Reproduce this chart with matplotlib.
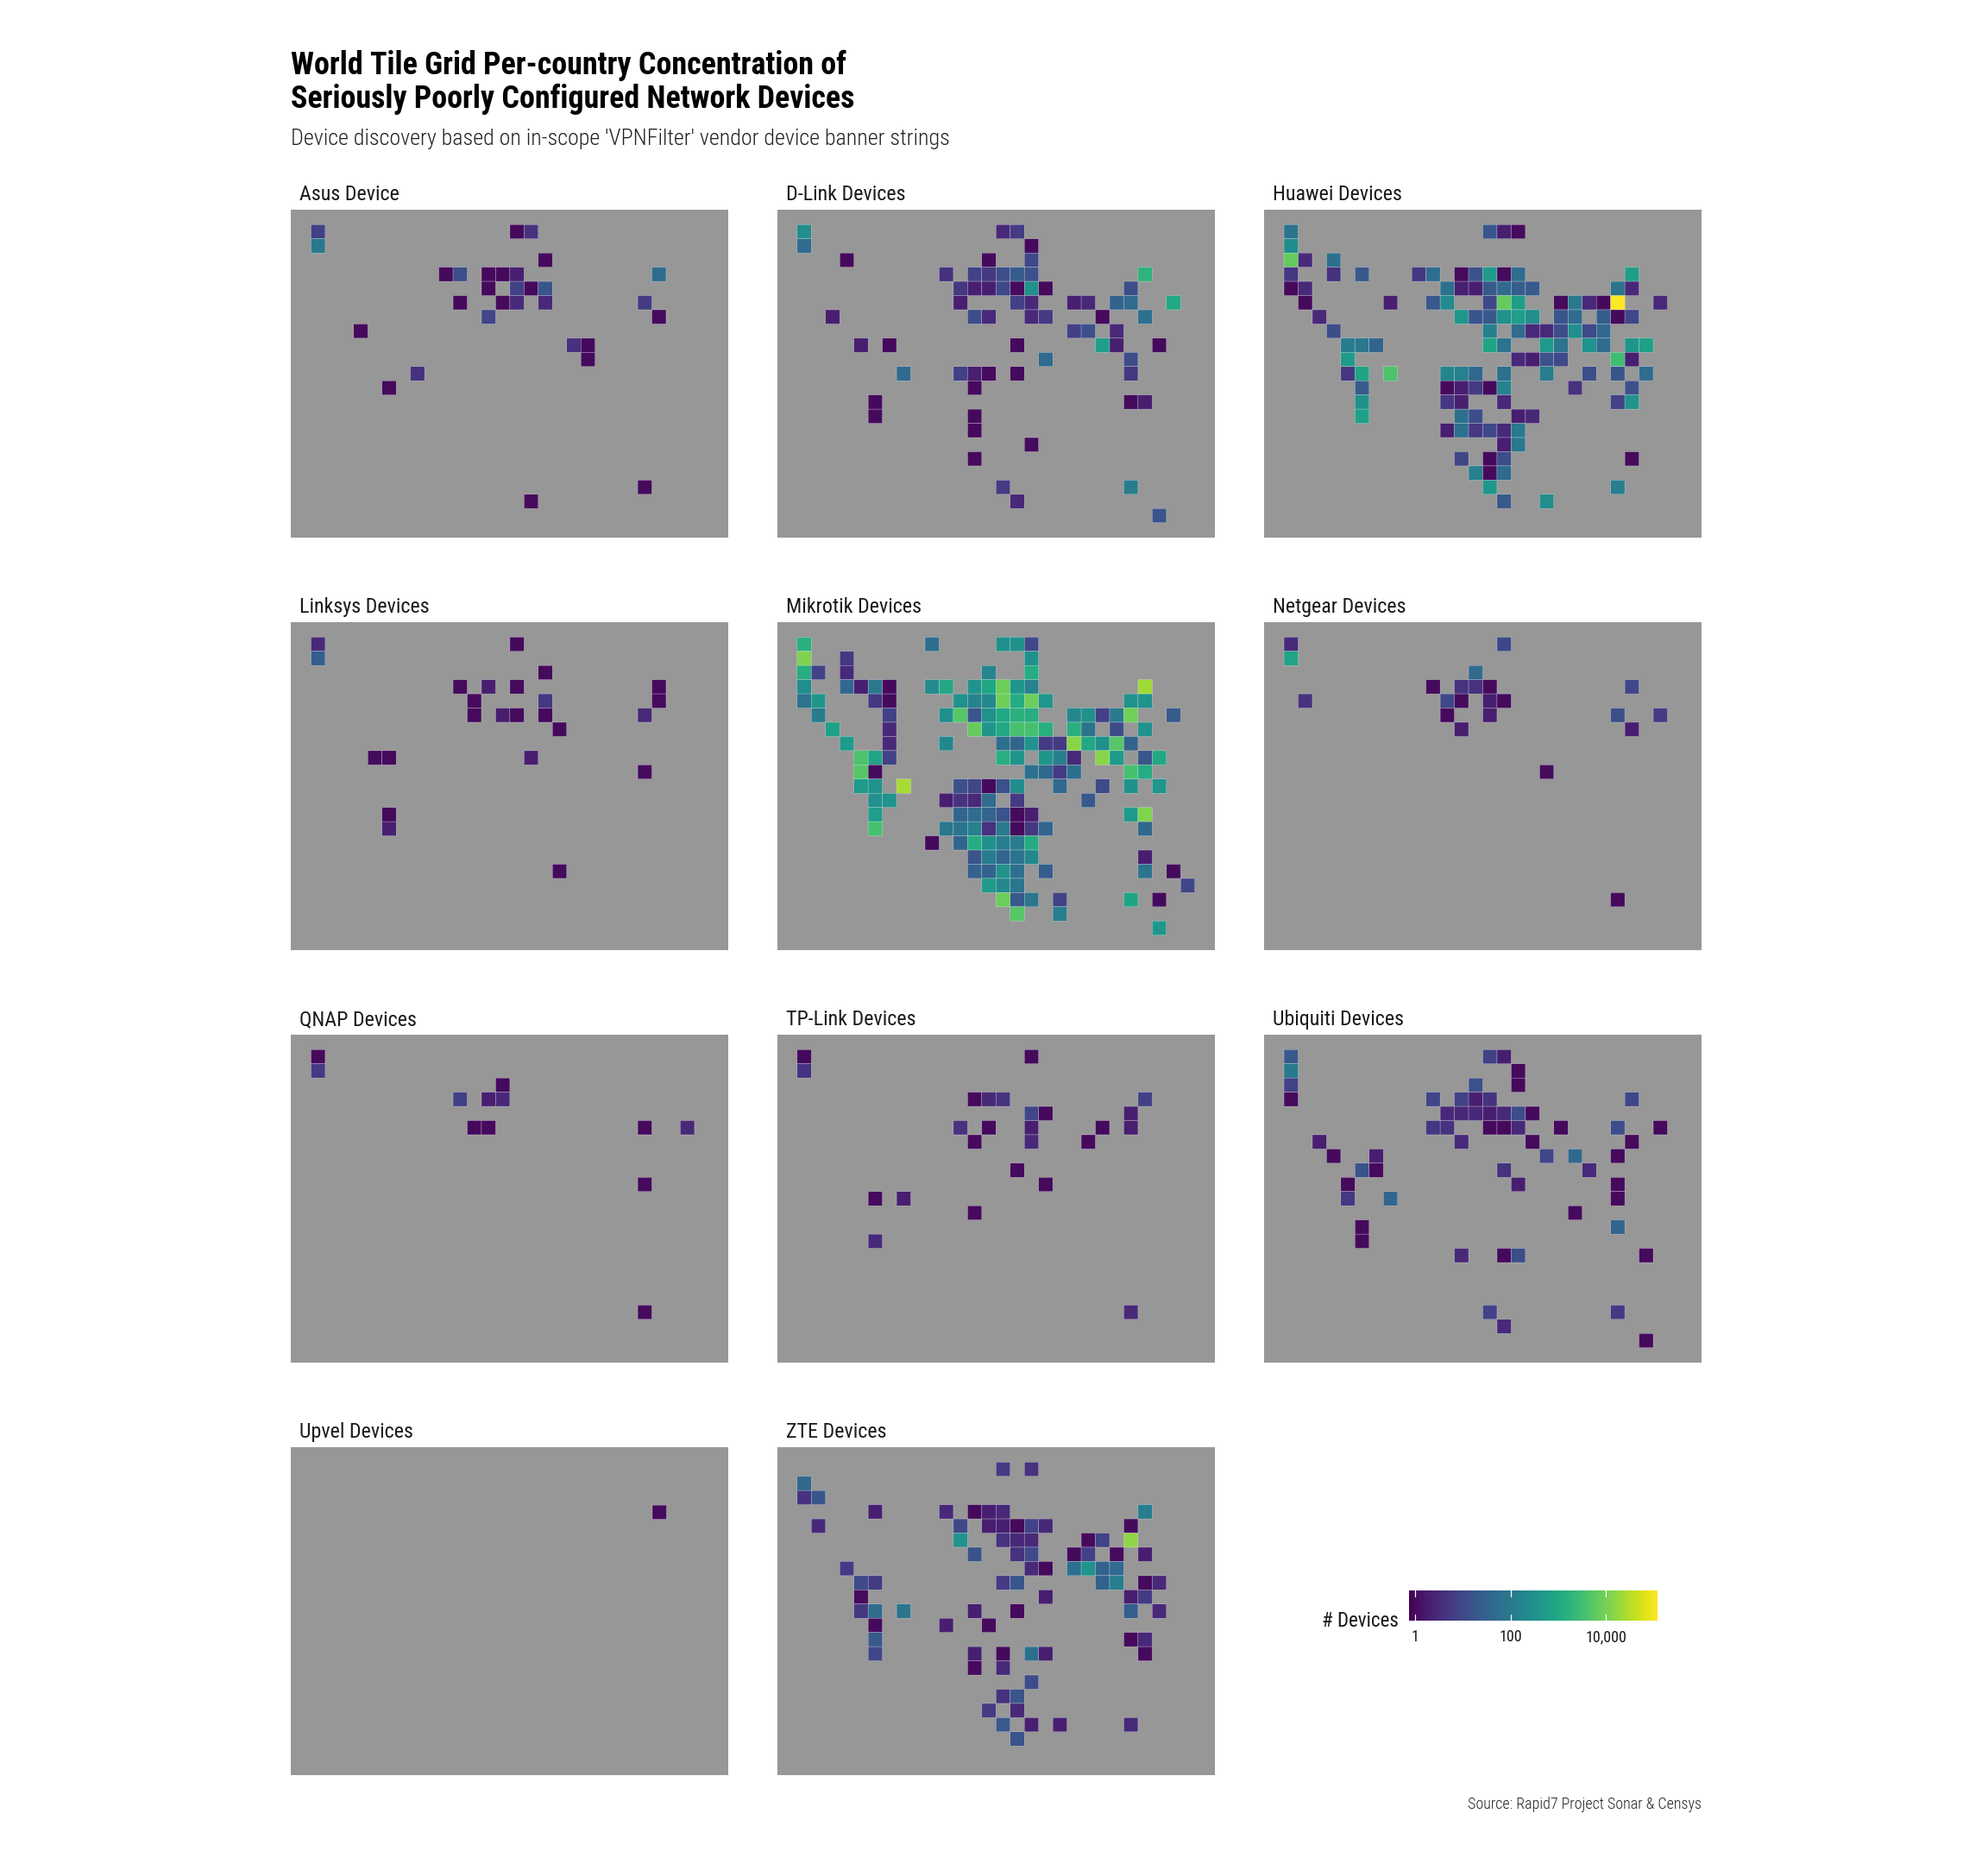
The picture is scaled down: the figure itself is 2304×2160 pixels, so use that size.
import matplotlib
matplotlib.use('Agg')
import matplotlib.pyplot as plt
import numpy as np
from matplotlib.cm import ScalarMappable
from matplotlib.colors import LogNorm

# device counts per vendor: tile grid column, tile grid row, count
asus_col = [1, 15, 16, 1, 17, 10, 11, 13, 14, 15, 25, 13, 15, 16, 17, 11, 14, 15, 17, 24, 13, 25, 4, 19, 20, 20, 8, 6, 24, 16]
asus_row = [1, 1, 1, 2, 3, 4, 4, 4, 4, 4, 4, 5, 5, 5, 5, 6, 6, 6, 6, 6, 7, 7, 8, 9, 9, 10, 11, 12, 19, 20]
asus_n = [7, 1, 4, 90, 1, 1, 12, 1, 1, 2, 50, 1, 7, 1, 18, 1, 1, 3, 3, 6, 9, 1, 1, 4, 1, 1, 4, 1, 1, 1]

dlink_col = [1, 15, 16, 1, 17, 4, 14, 17, 11, 13, 14, 15, 16, 17, 25, 12, 13, 14, 15, 16, 17, 18, 24,
             12, 16, 17, 20, 21, 23, 24, 27, 3, 13, 14, 17, 18, 22, 25, 20, 21, 23,
             5, 7, 16, 22, 23, 26, 18, 24, 8, 12, 13, 14, 16, 24, 13, 6, 24, 25, 6, 13, 13, 17, 13, 15, 24, 16, 26]
dlink_row = [1, 1, 1, 2, 2, 3, 3, 3, 4, 4, 4, 4, 4, 4, 4, 5, 5, 5, 5, 5, 5, 5, 5,
             6, 6, 6, 6, 6, 6, 6, 6, 7, 7, 7, 7, 7, 7, 7, 8, 8, 8,
             9, 9, 9, 9, 9, 9, 10, 10, 11, 11, 11, 11, 11, 11, 12, 13, 13, 13, 14, 14, 15, 16, 17, 19, 19, 20, 21]
dlink_n = [250, 3, 6, 50, 1, 1, 1, 10, 4, 8, 5, 12, 22, 14, 1800, 5, 2, 2, 10, 1, 300, 1, 12,
           2, 7, 3, 2, 3, 30, 45, 1000, 2, 12, 3, 3, 6, 1, 60, 7, 14, 3,
           2, 1, 1, 600, 2, 1, 45, 12, 45, 7, 2, 1, 1, 5, 1, 1, 1, 2, 1, 1, 1, 1, 1, 6, 110, 3, 16]

huawei_col = [1, 15, 16, 17, 1, 1, 2, 4, 1, 4, 6, 10, 11, 13, 14, 15, 16, 17, 25,
              1, 2, 12, 13, 14, 15, 16, 17, 18, 24, 25,
              2, 8, 11, 12, 15, 16, 17, 20, 21, 22, 23, 24, 27,
              3, 13, 14, 15, 16, 17, 18, 20, 21, 23, 24, 25,
              4, 15, 17, 18, 19, 20, 21, 22, 23,
              5, 6, 7, 15, 16, 19, 20, 22, 23, 25, 26,
              5, 17, 18, 19, 20, 24, 25,
              5, 6, 8, 12, 13, 14, 16, 19, 22, 24, 26,
              6, 12, 13, 14, 15, 16, 21, 25,
              6, 12, 13, 16, 24, 25, 6, 13, 14, 17, 18,
              12, 13, 14, 15, 16, 17, 16, 17, 13, 15, 16, 25, 14, 15, 16, 15, 24, 16, 19]
huawei_row = [1, 1, 1, 1, 2, 3, 3, 3, 4, 4, 4, 4, 4, 4, 4, 4, 4, 4, 4,
              5, 5, 5, 5, 5, 5, 5, 5, 5, 5, 5,
              6, 6, 6, 6, 6, 6, 6, 6, 6, 6, 6, 6, 6,
              7, 7, 7, 7, 7, 7, 7, 7, 7, 7, 7, 7,
              8, 8, 8, 8, 8, 8, 8, 8, 8,
              9, 9, 9, 9, 9, 9, 9, 9, 9, 9, 9,
              10, 10, 10, 10, 10, 10, 10,
              11, 11, 11, 11, 11, 11, 11, 11, 11, 11, 11,
              12, 12, 12, 12, 12, 12, 12, 12,
              13, 13, 13, 13, 13, 13, 14, 14, 14, 14, 14,
              15, 15, 15, 15, 15, 15, 16, 16, 17, 17, 17, 17, 18, 18, 18, 19, 19, 20, 20]
huawei_n = [70, 18, 2, 1, 250, 7000, 3, 60, 5, 4, 20, 5, 55, 1, 15, 500, 1, 50, 600,
            1, 3, 60, 2, 2, 20, 50, 25, 22, 80, 3,
            1, 2, 20, 220, 10, 7000, 550, 1, 90, 3, 1, 120000, 3,
            3, 400, 17, 20, 300, 600, 280, 18, 45, 25, 1, 9,
            12, 130, 50, 3, 3, 12, 280, 10, 40,
            110, 90, 35, 800, 70, 500, 70, 350, 50, 400, 700,
            500, 3, 2, 15, 10, 3000, 2,
            5, 800, 4000, 170, 130, 40, 60, 110, 13, 18, 50,
            22, 1, 2, 6, 1, 150, 4, 14,
            300, 5, 2, 3, 8, 350, 700, 60, 12, 2, 3,
            2, 60, 5, 10, 3, 100, 2, 90, 9, 1, 12, 1, 130, 1, 45, 420, 120, 20, 250]

linksys_col = [1, 15, 1, 17, 11, 13, 15, 25, 12, 17, 25, 12, 14, 15, 17, 24, 18, 5, 6, 16, 24, 6, 6, 18]
linksys_row = [1, 1, 2, 3, 4, 4, 4, 4, 5, 5, 5, 6, 6, 6, 6, 6, 7, 9, 9, 9, 10, 13, 14, 17]
linksys_n = [3, 1, 25, 1, 1, 2, 1, 1, 1, 5, 1, 1, 2, 1, 1, 3, 1, 1, 1, 2, 1, 1, 2, 1]

mikrotik_col = [1, 10, 15, 16, 17, 1, 4, 17, 1, 2, 4, 14, 17,
                1, 4, 5, 6, 7, 10, 11, 13, 14, 15, 16, 17, 25,
                1, 2, 6, 7, 12, 13, 14, 15, 16, 17, 18, 24, 25,
                2, 7, 11, 12, 13, 14, 15, 16, 17, 20, 21, 22, 23, 24, 27,
                3, 7, 13, 14, 15, 16, 17, 18, 20, 21, 23, 25,
                4, 7, 11, 15, 16, 17, 18, 19, 20, 21, 22, 23, 24,
                5, 6, 7, 15, 16, 18, 19, 20, 22, 23, 25, 26,
                5, 6, 17, 18, 19, 20, 24, 25,
                5, 6, 8, 12, 13, 14, 15, 16, 19, 22, 24, 26,
                6, 7, 11, 12, 13, 14, 16, 21,
                6, 12, 13, 14, 15, 16, 17, 24, 25,
                6, 11, 12, 13, 14, 15, 16, 17, 18, 25,
                10, 12, 13, 14, 15, 16, 17,
                13, 14, 15, 16, 17, 25,
                13, 14, 15, 16, 18, 25, 27,
                14, 15, 16, 28, 15, 16, 17, 19, 24, 26, 16, 19, 26]
mikrotik_row = [1, 1, 1, 1, 1, 2, 2, 2, 3, 3, 3, 3, 3,
                4, 4, 4, 4, 4, 4, 4, 4, 4, 4, 4, 4, 4,
                5, 5, 5, 5, 5, 5, 5, 5, 5, 5, 5, 5, 5,
                6, 6, 6, 6, 6, 6, 6, 6, 6, 6, 6, 6, 6, 6, 6,
                7, 7, 7, 7, 7, 7, 7, 7, 7, 7, 7, 7,
                8, 8, 8, 8, 8, 8, 8, 8, 8, 8, 8, 8, 8,
                9, 9, 9, 9, 9, 9, 9, 9, 9, 9, 9, 9,
                10, 10, 10, 10, 10, 10, 10, 10,
                11, 11, 11, 11, 11, 11, 11, 11, 11, 11, 11, 11,
                12, 12, 12, 12, 12, 12, 12, 12,
                13, 13, 13, 13, 13, 13, 13, 13, 13,
                14, 14, 14, 14, 14, 14, 14, 14, 14, 14,
                15, 15, 15, 15, 15, 15, 15,
                16, 16, 16, 16, 16, 16,
                17, 17, 17, 17, 17, 17, 17,
                18, 18, 18, 18, 19, 19, 19, 19, 19, 19, 20, 20, 21]
mikrotik_n = [1500, 55, 280, 300, 10, 12000, 5, 300, 1300, 8, 3, 170, 1200,
              250, 40, 2, 90, 1, 220, 1000, 350, 900, 8000, 400, 150, 22000,
              70, 400, 5, 1, 300, 150, 200, 8500, 1200, 8000, 400, 350, 350,
              110, 7, 280, 5000, 18, 300, 1000, 1500, 1300, 200, 300, 7, 100, 9000, 22,
              700, 3, 7000, 400, 1000, 3500, 3500, 1400, 1500, 70, 12, 300,
              500, 3, 200, 60, 35, 350, 6, 6, 14000, 1000, 300, 5000, 30,
              4000, 800, 8, 1400, 400, 400, 130, 3, 14000, 500, 18, 1000,
              5000, 1, 60, 40, 6, 60, 3500, 1200,
              500, 350, 25000, 14, 9, 1, 14, 250, 40, 11, 300, 400,
              280, 350, 2, 4, 3, 50, 6, 20,
              600, 35, 50, 35, 16, 1, 2, 500, 12000,
              3500, 90, 75, 130, 4, 100, 1, 5, 35, 40,
              1, 35, 1200, 300, 120, 110, 1200,
              17, 110, 35, 75, 200, 2,
              30, 30, 300, 60, 25, 70, 1,
              500, 200, 80, 9, 8000, 20, 80, 8, 800, 1, 5000, 120, 450]

netgear_col = [1, 16, 1, 14, 11, 13, 14, 15, 25, 2, 12, 13, 15, 16, 12, 15, 24, 27, 13, 25, 19, 24]
netgear_row = [1, 1, 2, 3, 4, 4, 4, 4, 4, 5, 5, 5, 5, 5, 6, 6, 6, 6, 7, 7, 10, 19]
netgear_n = [3, 9, 800, 45, 1, 4, 4, 1, 9, 4, 10, 1, 2, 1, 1, 2, 13, 6, 2, 2, 1, 1]

qnap_col = [1, 1, 14, 11, 13, 14, 12, 13, 24, 27, 24, 24]
qnap_row = [1, 2, 3, 4, 4, 4, 6, 6, 6, 6, 10, 19]
qnap_n = [1, 6, 1, 7, 2, 3, 1, 1, 1, 3, 1, 1]

tplink_col = [1, 17, 1, 13, 14, 15, 25, 17, 18, 24, 12, 14, 17, 22, 24, 13, 17, 21, 16, 18, 6, 8, 13, 6, 24]
tplink_row = [1, 1, 2, 4, 4, 4, 4, 5, 5, 5, 6, 6, 6, 6, 6, 7, 7, 7, 9, 10, 11, 11, 12, 14, 19]
tplink_n = [1, 1, 4, 1, 3, 4, 7, 9, 1, 2, 4, 1, 2, 1, 2, 1, 3, 1, 1, 1, 1, 2, 1, 3, 3]

ubiquiti_col = [1, 15, 16, 1, 17, 1, 14, 17, 1, 11, 13, 14, 15, 25, 12, 13, 14, 15, 16, 17, 18,
                11, 12, 15, 16, 17, 20, 24, 27, 3, 13, 18, 25, 4, 7, 19, 21, 24,
                6, 7, 16, 22, 5, 17, 24, 5, 8, 24, 21, 6, 24, 6, 13, 16, 17, 26, 15, 24, 16, 26]
ubiquiti_row = [1, 1, 1, 2, 2, 3, 3, 3, 4, 4, 4, 4, 4, 4, 5, 5, 5, 5, 5, 5, 5,
                6, 6, 6, 6, 6, 6, 6, 6, 7, 7, 7, 7, 8, 8, 8, 8, 8,
                9, 9, 9, 9, 10, 10, 10, 11, 11, 11, 12, 13, 13, 14, 15, 15, 15, 15, 19, 19, 20, 21]
ubiquiti_n = [20, 7, 2, 100, 1, 7, 14, 1, 1, 9, 8, 2, 4, 9, 3, 3, 3, 2, 3, 12, 1,
              5, 4, 1, 1, 3, 1, 12, 1, 2, 3, 1, 1, 1, 2, 9, 40, 1,
              16, 1, 4, 3, 1, 2, 1, 5, 35, 1, 1, 1, 35, 1, 3, 1, 12, 1, 8, 6, 3, 1]

upvel_col = [25]
upvel_row = [4]
upvel_n = [1]

zte_col = [15, 17, 1, 1, 2, 6, 11, 13, 14, 15, 25, 2, 12, 14, 15, 16, 17, 18, 24,
           12, 15, 16, 17, 21, 22, 24, 13, 16, 17, 20, 21, 23, 25,
           4, 17, 18, 20, 21, 22, 23, 5, 6, 15, 16, 22, 23, 25, 26,
           5, 18, 24, 25, 5, 6, 8, 13, 16, 24, 26, 6, 11, 14, 6, 24, 25,
           6, 13, 15, 17, 18, 25, 13, 15, 17, 15, 16, 14, 16, 15, 17, 19, 24, 16]
zte_row = [1, 1, 2, 3, 3, 4, 4, 4, 4, 4, 4, 5, 5, 5, 5, 5, 5, 5, 5,
           6, 6, 6, 6, 6, 6, 6, 7, 7, 7, 7, 7, 7, 7,
           8, 8, 8, 8, 8, 8, 8, 9, 9, 9, 9, 9, 9, 9, 9,
           10, 10, 10, 10, 11, 11, 11, 11, 11, 11, 11, 12, 12, 12, 13, 13, 13,
           14, 14, 14, 14, 14, 14, 15, 15, 16, 17, 17, 18, 18, 19, 19, 19, 19, 20]
zte_n = [6, 4, 40, 4, 18, 2, 3, 1, 2, 3, 120, 3, 10, 2, 2, 1, 8, 3, 1,
         350, 4, 3, 3, 1, 8, 16000, 16, 4, 11, 1, 7, 1, 2,
         6, 3, 1, 60, 350, 30, 45, 11, 6, 6, 18, 30, 120, 1, 3,
         1, 2, 2, 6, 5, 50, 80, 2, 1, 25, 3, 1, 2, 1, 20, 1, 3,
         9, 2, 1, 60, 2, 1, 1, 3, 11, 4, 17, 6, 3, 20, 2, 2, 3, 17]

panel_titles = ['Asus Device', 'D-Link Devices', 'Huawei Devices', 'Linksys Devices', 'Mikrotik Devices',
                'Netgear Devices', 'QNAP Devices', 'TP-Link Devices', 'Ubiquiti Devices', 'Upvel Devices', 'ZTE Devices']
panel_data = [(asus_col, asus_row, asus_n), (dlink_col, dlink_row, dlink_n), (huawei_col, huawei_row, huawei_n),
              (linksys_col, linksys_row, linksys_n), (mikrotik_col, mikrotik_row, mikrotik_n),
              (netgear_col, netgear_row, netgear_n), (qnap_col, qnap_row, qnap_n), (tplink_col, tplink_row, tplink_n),
              (ubiquiti_col, ubiquiti_row, ubiquiti_n), (upvel_col, upvel_row, upvel_n), (zte_col, zte_row, zte_n)]

legend_ticks = [1, 100, 10000]
legend_labels = ['1', '100', '10,000']

W, H = 2304, 2160
COND = ['Roboto Condensed', 'DejaVu Sans']
norm = LogNorm(vmin=10 ** -0.133, vmax=10 ** 5.08)


def fx(px):
    return px / W


def fy(px):
    return 1 - px / H


fig = plt.figure(figsize=(W / 144, H / 144), dpi=144, facecolor='white')

x_edges = np.arange(0.5, 29)
y_edges = np.arange(0.5, 22)
lefts = [337.4, 900.8, 1465.0]
tops = [243, 721, 1199, 1677]
pw, ph = 507, 380

for i, (title, (cols, rows, counts)) in enumerate(zip(panel_titles, panel_data)):
    left, top = lefts[i % 3], tops[i // 3]
    ax = fig.add_axes([fx(left), fy(top + ph), pw / W, ph / H], facecolor='#979797')
    grid = np.full((21, 28), np.nan)
    grid[np.array(rows) - 1, np.array(cols) - 1] = counts
    ax.pcolor(x_edges, y_edges, np.ma.masked_invalid(grid), cmap='viridis', norm=norm,
              edgecolors=(1, 1, 1, 0.6), linewidth=0.2)
    ax.set_xlim(-0.9, 29.9)
    ax.set_ylim(22.55, -0.55)
    ax.set_xticks([])
    ax.set_yticks([])
    for sp in ax.spines.values():
        sp.set_visible(False)
    fig.text(fx(left + 10), fy(top - 11), title, family=COND, fontsize=12, color='#1a1a1a', va='baseline')

fig.text(fx(337), fy(76), 'World Tile Grid Per-country Concentration of', family=COND, weight='bold',
         fontsize=18, color='black', va='center')
fig.text(fx(337), fy(115), 'Seriously Poorly Configured Network Devices', family=COND, weight='bold',
         fontsize=18, color='black', va='center')
fig.text(fx(337), fy(161), "Device discovery based on in-scope 'VPNFilter' vendor device banner strings",
         family=COND, weight='light', fontsize=13, color='#222222', va='center')
fig.text(fx(1972), fy(2091), 'Source: Rapid7 Project Sonar & Censys', family=COND, weight='light', fontsize=9,
         color='#222222', ha='right', va='center')

cax = fig.add_axes([fx(1633), fy(1878), 288 / W, 35 / H])
cbar = fig.colorbar(ScalarMappable(norm=norm, cmap='viridis'), cax=cax, orientation='horizontal')
cbar.set_ticks(legend_ticks, labels=legend_labels)
cbar.ax.minorticks_off()
cbar.outline.set_visible(False)
cax.tick_params(length=0, pad=5, labelsize=9, labelcolor='#1a1a1a')
for lab in cax.get_xticklabels():
    lab.set_family(COND)
for t in legend_ticks:
    cax.plot([t, t], [0, 0.2], color='white', lw=0.6, transform=cax.get_xaxis_transform())
    cax.plot([t, t], [0.8, 1], color='white', lw=0.6, transform=cax.get_xaxis_transform())
fig.text(fx(1621), fy(1878.5), '# Devices', family=COND, fontsize=11.5, color='#1a1a1a', ha='right', va='center')

fig.savefig('out.png', dpi=144, facecolor='white')
